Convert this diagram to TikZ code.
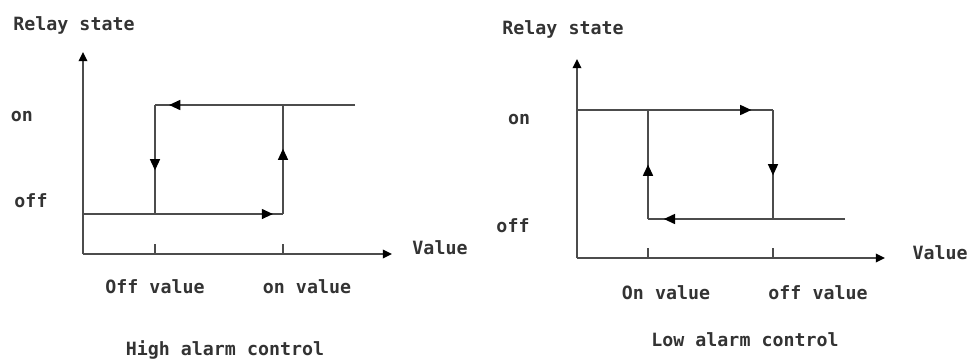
\documentclass[tikz,border=0pt]{standalone}
\usepackage{fontspec}
\setmonofont{DejaVu Sans Mono}
\usetikzlibrary{arrows.meta,decorations.markings}
\definecolor{linegray}{HTML}{4c4c4c}
\definecolor{textgray}{HTML}{333333}
\tikzset{
  curve/.style={draw=linegray, line width=1.4pt},
  axis/.style={curve, -{Triangle[length=6.5pt,width=6pt,color=black]}},
  midarrow/.style={postaction={decorate}, decoration={markings,
      mark=at position #1 with {\arrow{Triangle[length=8pt,width=7pt,color=black]}}}},
  lbl/.style={font=\fontsize{13}{15}\selectfont\ttfamily\bfseries, text=textgray, inner sep=0pt}
}
\begin{document}
\begin{tikzpicture}[x=0.025cm, y=-0.025cm]
   \useasboundingbox (0,0) rectangle (971,358);

   % high alarm control
   \coordinate (o1) at (83,254);
   \coordinate (ytop1) at (83,52);
   \coordinate (xend1) at (392,254);
   \coordinate (offL1) at (83,214);
   \coordinate (offA1) at (155,214);
   \coordinate (offB1) at (283,214);
   \coordinate (onA1) at (155,105);
   \coordinate (onB1) at (283,105);
   \coordinate (onR1) at (355,105);
   \coordinate (tickA1) at (155,244);
   \coordinate (tickB1) at (283,244);
   \coordinate (baseA1) at (155,254);
   \coordinate (baseB1) at (283,254);

   \node[lbl] (ylabel1) at (74,25) {Relay state};
   \node[lbl] (on1) at (22,117) {on};
   \node[lbl] (off1) at (31,201) {off};
   \node[lbl] (xlabel1) at (440,248) {Value};
   \node[lbl] (offval1) at (155,287) {Off value};
   \node[lbl] (onval1) at (307,287) {on value};
   \node[lbl] (title1) at (225,350) {High alarm control};

   \draw[axis] (o1) -- (ytop1);
   \draw[axis] (o1) -- (xend1);
   \draw[curve] (tickA1) -- (baseA1);
   \draw[curve] (tickB1) -- (baseB1);

   \draw[curve, midarrow=0.95] (offL1) -- (offB1);
   \draw[curve, midarrow=0.6] (offB1) -- (onB1);
   \draw[curve, midarrow=0.93] (onR1) -- (onA1);
   \draw[curve, midarrow=0.6] (onA1) -- (offA1);

   % low alarm control
   \coordinate (o2) at (577,258);
   \coordinate (ytop2) at (577,59);
   \coordinate (xend2) at (885,258);
   \coordinate (onL2) at (577,110);
   \coordinate (onA2) at (648,110);
   \coordinate (onB2) at (773,110);
   \coordinate (offA2) at (648,219);
   \coordinate (offB2) at (773,219);
   \coordinate (offR2) at (845,219);
   \coordinate (tickA2) at (648,248);
   \coordinate (tickB2) at (773,248);
   \coordinate (baseA2) at (648,258);
   \coordinate (baseB2) at (773,258);

   \node[lbl] (ylabel2) at (563,29) {Relay state};
   \node[lbl] (on2) at (519,120) {on};
   \node[lbl] (off2) at (513,226) {off};
   \node[lbl] (xlabel2) at (940,253) {Value};
   \node[lbl] (onval2) at (666,293) {On value};
   \node[lbl] (offval2) at (818,293) {off value};
   \node[lbl] (title2) at (745,340) {Low alarm control};

   \draw[axis] (o2) -- (ytop2);
   \draw[axis] (o2) -- (xend2);
   \draw[curve] (tickA2) -- (baseA2);
   \draw[curve] (tickB2) -- (baseB2);

   \draw[curve, midarrow=0.89] (onL2) -- (onB2);
   \draw[curve, midarrow=0.6] (onB2) -- (offB2);
   \draw[curve, midarrow=0.92] (offR2) -- (offA2);
   \draw[curve, midarrow=0.5] (offA2) -- (onA2);
\end{tikzpicture}
\end{document}
